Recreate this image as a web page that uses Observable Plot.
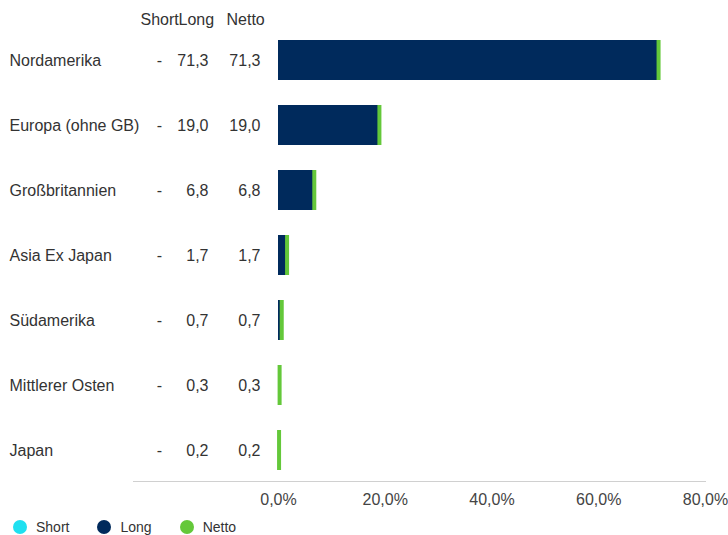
<!DOCTYPE html>
<html>
<head>
<meta charset="utf-8">
<script src="https://cdn.jsdelivr.net/npm/d3@7"></script>
<script src="https://cdn.jsdelivr.net/npm/@observablehq/plot@0.6"></script>
<style>
  body { margin: 0; background: #fff; font-family: "Liberation Sans", Arial, sans-serif; }
  #legend { display: flex; align-items: center; height: 30px; padding-left: 13px; font-size: 14px; color: #333; }
  .item { display: flex; align-items: center; margin-right: 28px; }
  .dot { width: 14px; height: 14px; border-radius: 50%; margin-right: 9px; }
</style>
</head>
<body>
<div id="chart"></div>
<div id="legend"></div>
<script>
const regions = ["Nordamerika", "Europa (ohne GB)", "Großbritannien", "Asia Ex Japan", "Südamerika", "Mittlerer Osten", "Japan"];
const shortVals = [null, null, null, null, null, null, null];
const longVals = [71.3, 19.0, 6.8, 1.7, 0.7, 0.3, 0.2];
const nettoVals = [71.3, 19.0, 6.8, 1.7, 0.7, 0.3, 0.2];
const headers = ["Short", "Long", "Netto"];
const xTicks = [0, 20, 40, 60, 80];
const series = ["Short", "Long", "Netto"];
const colors = {Short: "#1fe0f0", Long: "#002a5c", Netto: "#64c83a"};

const data = regions.map((r, i) => ({region: r, short: shortVals[i], long: longVals[i], netto: nettoVals[i]}));
const fmt = v => v == null ? "-" : v.toFixed(1).replace(".", ",");
const headerDx = [7, 45, 93];
const headerData = headers.map((h, i) => ({h, dx: headerDx[i]}));
const pct = d => d.toFixed(1).replace(".", ",") + "%";

const textColor = "#333";
const fs = 16;
const font = "'Liberation Sans', Arial, sans-serif";
const plot = Plot.plot({
  width: 728,
  height: 512,
  marginLeft: 133,
  marginRight: 23,
  marginTop: 30,
  marginBottom: 31,
  style: {fontFamily: font, fontSize: fs + "px", color: textColor},
  x: {domain: [0, 80], range: [278, 705], label: null, axis: null},
  y: {domain: regions, range: [13.8, 495.4], padding: 0.386, axis: null},
  marks: [
    Plot.frame({anchor: "bottom", stroke: "#d0d0d0"}),
    Plot.axisX({ticks: xTicks, tickSize: 0, tickPadding: 12, tickFormat: pct, fontSize: fs, fill: "#444", label: null}),
    Plot.barX(data, {x1: 0, x2: "long", y: "region", fill: colors.Long}),
    Plot.barX(data, {x1: "netto", x2: "netto", y: "region", fill: colors.Netto, insetLeft: -2, insetRight: -2}),
    Plot.text(data, {y: "region", text: "region", frameAnchor: "left", dx: -124, textAnchor: "start", fill: textColor, fontSize: fs}),
    Plot.text(data, {y: "region", text: d => fmt(d.short), frameAnchor: "left", dx: 26, textAnchor: "middle", fill: textColor, fontSize: fs}),
    Plot.text(data, {y: "region", text: d => fmt(d.long), frameAnchor: "left", dx: 75, textAnchor: "end", fill: textColor, fontSize: fs}),
    Plot.text(data, {y: "region", text: d => fmt(d.netto), frameAnchor: "left", dx: 127, textAnchor: "end", fill: textColor, fontSize: fs}),
    ...headerData.map(h => Plot.text([h], {text: "h", frameAnchor: "top-left", lineAnchor: "middle", dx: h.dx, dy: -11, fill: textColor, textAnchor: "start", fontSize: fs}))
  ]
});
document.getElementById("chart").appendChild(plot);

const legend = document.getElementById("legend");
for (const s of series) {
  const item = document.createElement("div");
  item.className = "item";
  const dot = document.createElement("span");
  dot.className = "dot";
  dot.style.background = colors[s];
  const label = document.createElement("span");
  label.textContent = s;
  item.appendChild(dot);
  item.appendChild(label);
  legend.appendChild(item);
}
</script>
</body>
</html>
